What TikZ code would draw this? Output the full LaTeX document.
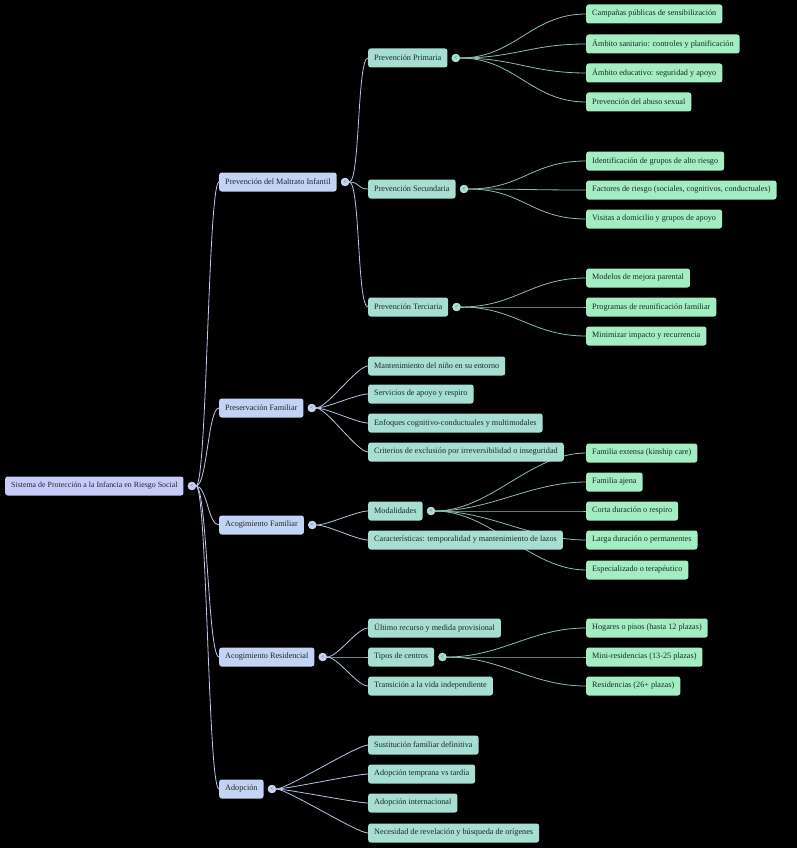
\documentclass[tikz,border=0pt]{standalone}
\usepackage{fontspec}
\setmainfont{Liberation Serif}
\usetikzlibrary{positioning}
\definecolor{rootc}{HTML}{C8CBF9}
\definecolor{lvA}{HTML}{C3D3F3}
\definecolor{lvB}{HTML}{A6DED2}
\definecolor{lvC}{HTML}{A2EEC2}
\definecolor{txt}{HTML}{1E2828}
\definecolor{lnA}{HTML}{C4C7EE}
\definecolor{lnB}{HTML}{B4C6E4}
\definecolor{lnC}{HTML}{8DBCB2}
\pgfdeclarelayer{back}
\pgfdeclarelayer{edges}
\pgfsetlayers{back,edges,main}

\begin{document}
\begin{tikzpicture}[x=1pt,y=-1pt,
  box/.style={rounded corners=2.5pt, anchor=west, minimum height=19pt, inner xsep=6pt,
              font=\fontsize{8.2}{9.5}\selectfont, text=txt},
  rootbox/.style={box, fill=rootc, font=\fontsize{7.9}{9.5}\selectfont},
  boxA/.style={box, fill=lvA},
  boxB/.style={box, fill=lvB},
  boxC/.style={box, fill=lvC},
  knob/.style={circle, inner sep=0pt, minimum size=8pt, fill=#1, draw=#1!55!white,
               font=\fontsize{5}{5}\selectfont, text=txt},
  lnk/.style={draw=#1, line width=0.8pt, out=0, in=180},
  near/.style={distance=11pt},
  far/.style={distance=55pt}]
\begin{pgfonlayer}{back}
  \fill[black] (0,0) rectangle (797,848);
\end{pgfonlayer}

% root and first level
\node[rootbox] (root) at (5,486) {Sistema de Protección a la Infancia en Riesgo Social};
\node[knob=rootc, right=4pt of root] (rootk) {<};
\node[boxA] (pmi) at (219,182) {Prevención del Maltrato Infantil};
\node[boxA] (pf)  at (219,408) {Preservación Familiar};
\node[boxA] (af)  at (219,525) {Acogimiento Familiar};
\node[boxA] (ar)  at (219,657) {Acogimiento Residencial};
\node[boxA] (ad)  at (219,789) {Adopción};
\foreach \n in {pmi,pf,af,ar,ad}{\node[knob=lvA, right=4pt of \n] (\n k) {<};}

% second level
\node[boxB] (pp) at (368,58)  {Prevención Primaria};
\node[boxB] (ps) at (368,189) {Prevención Secundaria};
\node[boxB] (pt) at (368,307) {Prevención Terciaria};
\node[boxB] (pf1) at (368,366) {Mantenimiento del niño en su entorno};
\node[boxB] (pf2) at (368,394) {Servicios de apoyo y respiro};
\node[boxB] (pf3) at (368,423) {Enfoques cognitivo-conductuales y multimodales};
\node[boxB] (pf4) at (368,452) {Criterios de exclusión por irreversibilidad o inseguridad};
\node[boxB] (mod) at (368,511) {Modalidades};
\node[boxB] (car) at (368,540) {Características: temporalidad y mantenimiento de lazos};
\node[boxB] (ar1) at (368,628) {Último recurso y medida provisional};
\node[boxB] (tc)  at (368,657) {Tipos de centros};
\node[boxB] (ar3) at (368,686) {Transición a la vida independiente};
\node[boxB] (ad1) at (368,745) {Sustitución familiar definitiva};
\node[boxB] (ad2) at (368,774) {Adopción temprana vs tardía};
\node[boxB] (ad3) at (368,803) {Adopción internacional};
\node[boxB] (ad4) at (368,833) {Necesidad de revelación y búsqueda de orígenes};
\foreach \n in {pp,ps,pt,mod,tc}{\node[knob=lvB, right=4pt of \n] (\n k) {<};}

% third level
\foreach \n/\y/\t in {pp1/14/Campañas públicas de sensibilización,
                      pp2/44/Ámbito sanitario: controles y planificación,
                      pp3/73/Ámbito educativo: seguridad y apoyo,
                      pp4/102/Prevención del abuso sexual,
                      ps1/161/Identificación de grupos de alto riesgo,
                      ps2/190/{Factores de riesgo (sociales, cognitivos, conductuales)},
                      ps3/219/Visitas a domicilio y grupos de apoyo,
                      pt1/278/Modelos de mejora parental,
                      pt2/307/Programas de reunificación familiar,
                      pt3/336/Minimizar impacto y recurrencia,
                      mod1/453/Familia extensa (kinship care),
                      mod2/482/Familia ajena,
                      mod3/511/Corta duración o respiro,
                      mod4/540/Larga duración o permanentes,
                      mod5/570/Especializado o terapéutico,
                      tc1/628/Hogares o pisos (hasta 12 plazas),
                      tc2/657/Mini-residencias (13-25 plazas),
                      tc3/686/Residencias (26+ plazas)}
  {\node[boxC] (\n) at (586,\y) {\t};}

% connectors
\begin{pgfonlayer}{edges}
  \foreach \n in {pmi,pf,af,ar,ad}{\draw[lnk=lnA, near] (rootk.east) to (\n.west);}
  \foreach \n in {pp,ps,pt}{\draw[lnk=lnB, near] (pmik.east) to (\n.west);}
  \foreach \n in {pf1,pf2,pf3,pf4}{\draw[lnk=lnB, near] (pfk.east) to (\n.west);}
  \foreach \n in {mod,car}{\draw[lnk=lnB, near] (afk.east) to (\n.west);}
  \foreach \n in {ar1,tc,ar3}{\draw[lnk=lnB, near] (ark.east) to (\n.west);}
  \foreach \n in {ad1,ad2,ad3,ad4}{\draw[lnk=lnB, near] (adk.east) to (\n.west);}
  \foreach \n in {pp1,pp2,pp3,pp4}{\draw[lnk=lnC, far] (ppk.east) to (\n.west);}
  \foreach \n in {ps1,ps2,ps3}{\draw[lnk=lnC, far] (psk.east) to (\n.west);}
  \foreach \n in {pt1,pt2,pt3}{\draw[lnk=lnC, far] (ptk.east) to (\n.west);}
  \foreach \n in {mod1,mod2,mod3,mod4,mod5}{\draw[lnk=lnC, far] (modk.east) to (\n.west);}
  \foreach \n in {tc1,tc2,tc3}{\draw[lnk=lnC, far] (tck.east) to (\n.west);}
\end{pgfonlayer}
\end{tikzpicture}
\end{document}
